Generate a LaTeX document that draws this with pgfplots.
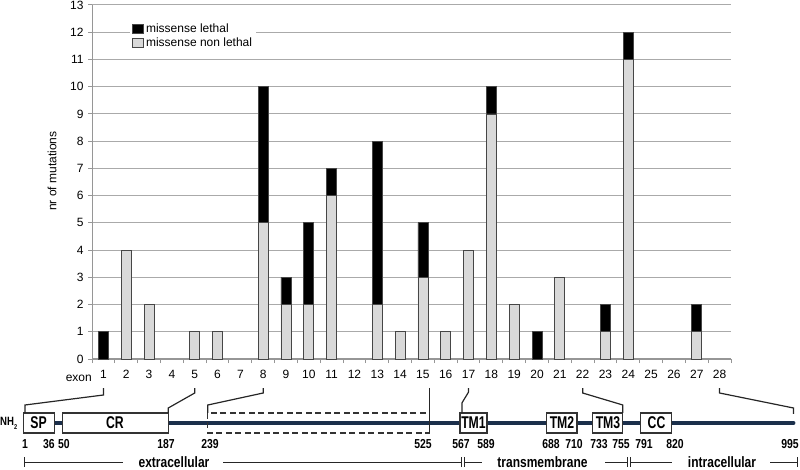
\documentclass[border=0pt]{standalone}
\usepackage{pgfplots}
\pgfplotsset{compat=1.18}
\usepackage{fontspec}
\setmainfont{Liberation Sans}
\newfontfamily\narrowfont[FakeStretch=0.8]{Liberation Sans}
\newfontfamily\boxfont[FakeStretch=0.72]{Liberation Sans}
\definecolor{navy}{RGB}{27,47,75}
\definecolor{lgray}{RGB}{217,217,217}
\definecolor{edge}{RGB}{70,70,70}
\definecolor{axgray}{RGB}{150,150,150}
\definecolor{gridgray}{RGB}{170,170,170}
\begin{document}
\begin{tikzpicture}
\useasboundingbox (0pt,0pt) rectangle (800pt,-470pt);
\begin{axis}[
  scale only axis, width=639pt, height=354pt,
  at={(92pt,-359pt)}, anchor=south west,
  xmin=0.5, xmax=28.5, ymin=0, ymax=13,
  ybar stacked, bar width=10pt,
  axis lines*=left,
  axis line style={draw=axgray, line width=1pt},
  ytick={0,1,...,13},
  xtick={1,2,...,28},
  xticklabels={1,2,3,4,5,6,7,8,9,10,11,12,13,14,15,16,17,18,19,20,21,22,23,24,25,26,27,28},
  minor xtick={0.5,1.5,...,28.5},
  major x tick style={draw=none},
  minor x tick style={draw=axgray, line width=1pt},
  ytick style={draw=axgray, line width=1pt},
  major tick length=4pt, minor tick length=4pt,
  tick align=outside,
  ymajorgrids, grid style={gridgray, line width=1pt},
  tick label style={font=\fontsize{12}{14}\selectfont},
  yticklabel style={/pgf/number format/assume math mode=true, xshift=-1pt},
  xticklabel style={yshift=-4pt},
  legend style={at={(0.0595,0.958)}, anchor=north west, draw=none, fill=white,
    font=\fontsize{12}{14}\selectfont, inner sep=2pt, row sep=0pt},
  legend cell align=left,
  reverse legend,
]
\addplot[fill=lgray, draw=edge, line width=0.8pt,
  legend image code/.code={\path[fill=lgray] (0pt,-4.5pt) rectangle (11pt,4.5pt);}]
  coordinates {(1,0) (2,4) (3,2) (4,0) (5,1) (6,1) (7,0) (8,5) (9,2) (10,2)
   (11,6) (12,0) (13,2) (14,1) (15,3) (16,1) (17,4) (18,9) (19,2) (20,0)
   (21,3) (22,0) (23,1) (24,11) (25,0) (26,0) (27,1) (28,0)};
\addplot[fill=black, draw=edge, line width=0.8pt,
  legend image code/.code={\path[fill=black] (0pt,-4.5pt) rectangle (11pt,4.5pt);}]
  coordinates {(1,1) (2,0) (3,0) (4,0) (5,0) (6,0) (7,0) (8,5) (9,1) (10,3)
   (11,1) (12,0) (13,6) (14,0) (15,2) (16,0) (17,0) (18,1) (19,0) (20,1)
   (21,0) (22,0) (23,1) (24,1) (25,0) (26,0) (27,1) (28,0)};
\legend{missense non lethal, missense lethal}
\draw[axgray, line width=1.1pt] (axis cs:0.5,0) -- (axis cs:28.5,0);
\coordinate (t1) at (axis cs:1,-1.065);
\coordinate (t5) at (axis cs:5,-1.065);
\coordinate (t8) at (axis cs:8,-1.065);
\coordinate (t17) at (axis cs:17,-1.065);
\coordinate (t22) at (axis cs:22,-1.065);
\coordinate (t28) at (axis cs:28,-1.065);
\end{axis}
\begin{axis}[
  scale only axis, width=771pt, height=90pt,
  at={(24pt,-470pt)}, anchor=south west,
  xmin=1, xmax=995, ymin=-470, ymax=-380,
  hide axis, clip=false,
]
% backbone
\draw[navy, line width=4pt, line cap=round] (axis cs:10,-423) -- (axis cs:993,-423);
% domains
\draw[black!80, line width=1.2pt, fill=white] (axis cs:0,-413) rectangle (axis cs:40,-433);
\draw[black!80, line width=1.2pt, fill=white] (axis cs:51,-413) rectangle (axis cs:187,-433);
\draw[black!80, line width=1.2pt, dash pattern=on 6pt off 3.5pt] (axis cs:238,-413) rectangle (axis cs:524,-433);
\draw[black!80, line width=1.2pt, fill=white] (axis cs:563,-413) rectangle (axis cs:598,-433);
\draw[black!80, line width=1.2pt, fill=white] (axis cs:675,-413) rectangle (axis cs:714,-433);
\draw[black!80, line width=1.2pt, fill=white] (axis cs:734,-413) rectangle (axis cs:773,-433);
\draw[black!80, line width=1.2pt, fill=white] (axis cs:796,-413) rectangle (axis cs:836,-433);
\draw[black!85, line width=1.2pt] (axis cs:524,-388) -- (axis cs:524,-433);
\coordinate (b1) at (axis cs:2.3,-405);   \coordinate (c1) at (axis cs:2.3,-413);
\coordinate (b5) at (axis cs:187,-408);   \coordinate (c5) at (axis cs:187,-413);
\coordinate (b8) at (axis cs:238,-405);   \coordinate (c8) at (axis cs:238,-413);
\coordinate (b17) at (axis cs:565.6,-403); \coordinate (c17) at (axis cs:565.6,-413);
\coordinate (b22) at (axis cs:773,-405);  \coordinate (c22) at (axis cs:773,-413);
\coordinate (b28) at (axis cs:993,-408);  \coordinate (c28) at (axis cs:993,-414);
\end{axis}
% connectors from exons
\begin{scope}[black!85, line width=1.2pt]
\draw (t1) -- ([yshift=-7pt]t1) -- (b1) -- (c1);
\draw (t5) -- ([yshift=-5pt]t5) -- (b5) -- (c5);
\draw (t8) -- ([yshift=-5pt]t8) -- (b8) -- (c8);
\draw (t17) -- ([yshift=-4pt]t17) -- (b17) -- (c17);
\draw (t22) -- ([yshift=-5pt]t22) -- (b22) -- (c22);
\draw (t28) -- ([yshift=-5pt]t28) -- (b28) -- (c28);
\end{scope}
% axis texts
\node[rotate=90, font=\fontsize{12}{14}\selectfont] at (52pt,-171pt) {nr of mutations};
\node[anchor=base east, inner sep=0pt, font=\fontsize{12}{14}\selectfont] at (92pt,-381pt) {exon};
% domain labels
\begin{scope}[every node/.style={font=\boxfont\bfseries\fontsize{17}{17}\selectfont, inner sep=0pt}]
\node at (38.5pt,-423pt) {SP};
\node at (115pt,-423pt) {CR};
\node at (473.5pt,-423pt) {TM1};
\node at (562pt,-423pt) {TM2};
\node at (608pt,-423pt) {TM3};
\node at (656.5pt,-423pt) {CC};
\end{scope}
\node[anchor=west, inner sep=0pt, font=\narrowfont\bfseries\fontsize{12}{12}\selectfont] at (0pt,-423pt) {NH\raisebox{-4pt}{\fontsize{7}{7}\selectfont 2}};
% residue numbers
\begin{scope}[every node/.style={anchor=base, inner sep=0pt, font=\narrowfont\bfseries\fontsize{13}{13}\selectfont}]
\node at (25pt,-448pt) {1};
\node at (49pt,-448pt) {36};
\node at (64pt,-448pt) {50};
\node at (166pt,-448pt) {187};
\node at (210pt,-448pt) {239};
\node at (423pt,-448pt) {525};
\node at (461pt,-448pt) {567};
\node at (486pt,-448pt) {589};
\node at (551pt,-448pt) {688};
\node at (574pt,-448pt) {710};
\node at (599pt,-448pt) {733};
\node at (621pt,-448pt) {755};
\node at (644pt,-448pt) {791};
\node at (675pt,-448pt) {820};
\node at (790pt,-448pt) {995};
\end{scope}
% region brackets
\begin{scope}[black!85, line width=1pt]
\draw (24pt,-462pt) -- (123pt,-462pt);
\draw (24pt,-457pt) -- (24pt,-467pt);
\draw (223pt,-462pt) -- (461pt,-462pt);
\draw (461pt,-457pt) -- (461pt,-467pt);
\draw (464.5pt,-457pt) -- (464.5pt,-467pt);
\draw (464.5pt,-462pt) -- (482pt,-462pt);
\draw (605pt,-462pt) -- (627pt,-462pt);
\draw (627pt,-457pt) -- (627pt,-467pt);
\draw (630.5pt,-457pt) -- (630.5pt,-467pt);
\draw (630.5pt,-462pt) -- (672pt,-462pt);
\draw (770pt,-462pt) -- (797pt,-462pt);
\draw (797pt,-457pt) -- (797pt,-467pt);
\end{scope}
\begin{scope}[every node/.style={anchor=base, inner sep=0pt, font=\narrowfont\bfseries\fontsize{15}{15}\selectfont}]
\node at (174pt,-467.5pt) {extracellular};
\node at (542.5pt,-467.5pt) {transmembrane};
\node at (722pt,-467.5pt) {intracellular};
\end{scope}
\end{tikzpicture}
\end{document}
